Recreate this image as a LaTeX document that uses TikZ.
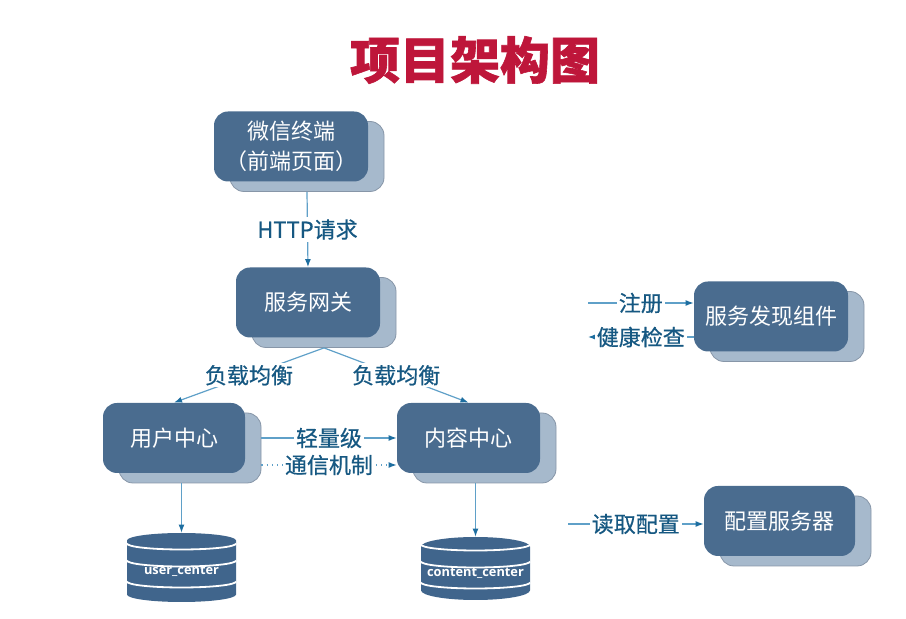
\documentclass[tikz,border=0pt]{standalone}
\usepackage{fontspec}
\setmainfont{Noto Sans CJK SC}
\newfontfamily\lblfont[FakeBold=0.6]{Noto Sans CJK SC}
\newfontfamily\titlefont[FakeBold=1.2]{Noto Sans CJK SC}
\newfontfamily\dbfont{Open Sans}
\usetikzlibrary{arrows.meta,positioning,shadows,shapes.geometric}

\definecolor{boxblue}{RGB}{74,108,143}
\definecolor{shadeblue}{RGB}{166,185,204}
\definecolor{shadeedge}{RGB}{135,150,168}
\definecolor{labelblue}{RGB}{22,88,130}
\definecolor{lineblue}{RGB}{95,160,200}
\definecolor{tipblue}{RGB}{30,110,160}
\definecolor{titlered}{RGB}{190,22,58}
\definecolor{dbblue}{RGB}{64,101,140}

\begin{document}
\begin{tikzpicture}[
			x=0.5pt, y=-0.5pt,
			every node/.style={font=\fontsize{11}{15}\selectfont},
			title/.style={font=\titlefont\fontsize{25}{30}\selectfont\bfseries, text=titlered},
			box/.style={
				fill=boxblue, text=white,
				rounded corners=7pt,
				align=center,
				minimum height=35pt,
				copy shadow={shadow xshift=8pt, shadow yshift=-5pt,
					fill=shadeblue, draw=shadeedge, line width=0.4pt}
			},
			lbl/.style={fill=white, text=labelblue, inner sep=1pt,
				font=\lblfont\fontsize{11}{15}\selectfont},
			arrow/.style={draw=lineblue, line width=0.6pt,
				-{Latex[length=4pt,width=3pt,color=tipblue]}},
			dotarrow/.style={arrow, dotted},
			db/.style={
				cylinder, shape border rotate=90, aspect=0.2,
				anchor=shape center,
				fill=dbblue, text=white, inner xsep=0pt,
				minimum width=54.5pt, minimum height=34.5pt,
				font=\dbfont\fontsize{6.4}{7}\selectfont\bfseries
			},
			stripe/.style={draw=white, line width=0.9pt}
			]
			\useasboundingbox (0,0) rectangle (906,619);
			
			% ---- Title ----
			\node[title] (title) at (475,60) {项目架构图};
			
			% ---- Boxes ----
			\node[box, minimum width=77pt] (wx) at (291,146.5)
			{微信终端\\（前端页面）};
			\node[box, minimum width=72pt] (gw) at (308,302.5) {服务网关};
			\node[box, minimum width=71pt] (user) at (174,438) {用户中心};
			\node[box, minimum width=71.5pt] (content) at (468.5,438) {内容中心};
			\node[box, minimum width=77pt] (disc) at (771,316.5) {服务发现组件};
			\node[box, minimum width=75.5pt] (conf) at (779.5,521) {配置服务器};
			
			% ---- Databases ----
			\node[db] (udb) at (181.5,567.5) {user\_center};
			\node[db, minimum height=31.5pt] (cdb) at (475.5,568.5) {content\_center};
			\foreach \d in {udb,cdb}{
				\draw[stripe] ([shift={(-27.25pt,12pt)}]\d.shape center)
					arc[start angle=180, end angle=360, x radius=27.25pt, y radius=3pt];
				\draw[stripe] ([shift={(-27.25pt,3.5pt)}]\d.shape center)
					arc[start angle=180, end angle=360, x radius=27.25pt, y radius=3pt];
				\draw[stripe] ([shift={(-27.25pt,-7pt)}]\d.shape center)
					arc[start angle=180, end angle=360, x radius=27.25pt, y radius=3pt];
			}
			
			% ---- Free ends ----
			\coordinate (reg) at (588,303);
			\coordinate (hc) at (588,337);
			\coordinate (rd) at (568,524);
			
			% ---- Arrows ----
			\draw[arrow] ([shift={(8pt,-5pt)}]wx.south) -- node[lbl] {HTTP请求} (gw.north);
			\draw[arrow] ([shift={(8pt,-5pt)}]gw.south) -- node[lbl] {负载均衡} (user.north);
			\draw[arrow] ([shift={(8pt,-5pt)}]gw.south) -- node[lbl] {负载均衡} (content.north);
			\draw[arrow] ([xshift=8pt]user.east) -- node[lbl] {轻量级} (content.west);
			\draw[dotarrow] ([shift={(8pt,-13.5pt)}]user.east)
				-- node[lbl] {通信机制} ([yshift=-13.5pt]content.west);
			\draw[arrow, shorten <=5pt] (udb.north |- user.south) -- (udb.north);
			\draw[arrow, shorten <=5pt] (cdb.north |- content.south) -- (cdb.north);
			\draw[arrow] (reg) -- node[lbl] {注册} (reg -| disc.west);
			\draw[arrow] (hc -| disc.west) -- node[lbl] {健康检查} (hc);
			\draw[arrow] (rd) -- node[lbl] {读取配置} (rd -| conf.west);
			
		\end{tikzpicture}
\end{document}
